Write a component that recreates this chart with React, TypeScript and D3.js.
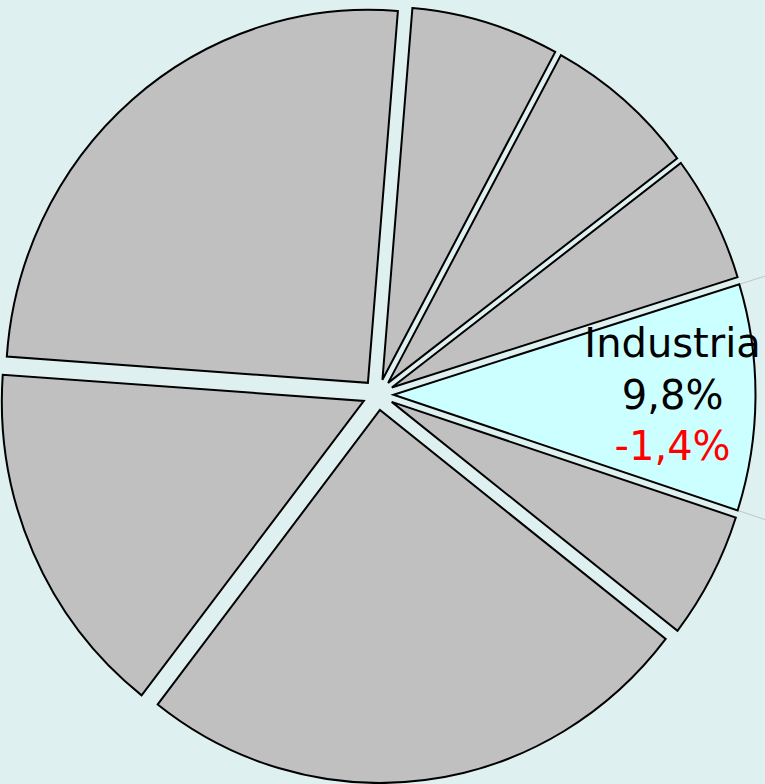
import React from "react";
import * as d3 from "d3";

// ---- data (clockwise, starting near 12 o'clock) ----
const categories = ["Sector A", "Sector B", "Sector C", "Industria", "Sector E", "Sector F", "Sector G", "Sector H"];
const shares = [6.6, 6.8, 5.5, 9.8, 5.5, 25.0, 15.6, 25.2];
const highlighted = "Industria";
const shareLabels = ["", "", "", "9,8%", "", "", "", ""];
const changeLabels = ["", "", "", "-1,4%", "", "", "", ""];

const W = 765;
const H = 784;
const CX = 378;
const CY = 394.6;
const RX = 362;
const RY = 373;
const EXPLODE = 15.5;
const START = (4.75 * Math.PI) / 180;

const BG = "#dff0f1";
const GRAY = "#c0c0c0";
const CYAN = "#ccffff";

export default function App() {
  const pie = d3
    .pie<number>()
    .sort(null)
    .value((d) => d)
    .startAngle(START)
    .endAngle(START + 2 * Math.PI);
  const arcs = pie(shares);
  const arcGen = d3.arc<d3.PieArcDatum<number>>().innerRadius(0).outerRadius(RY);
  const sx = RX / RY;

  return (
    <svg
      width={W}
      height={H}
      style={{ position: "absolute", left: 0, top: 0, display: "block" }}
    >
      <rect x={0} y={0} width={W} height={H} fill={BG} />
      {arcs.map((a, i) => {
        const mid = (a.startAngle + a.endAngle) / 2;
        const tx = EXPLODE * Math.sin(mid);
        const ty = -EXPLODE * Math.cos(mid);
        const isHi = categories[i] === highlighted;
        return (
          <g key={i} transform={`translate(${CX + tx},${CY + ty})`}>
            {isHi &&
              [a.startAngle, a.endAngle].map((b, j) => {
                const x0 = RX * Math.sin(b);
                const y0 = -RY * Math.cos(b);
                const dx = sx * Math.sin(b);
                const dy = -Math.cos(b);
                const n = Math.hypot(dx, dy);
                return (
                  <line
                    key={j}
                    x1={x0}
                    y1={y0}
                    x2={x0 + (80 * dx) / n}
                    y2={y0 + (80 * dy) / n}
                    stroke="#c4c4c4"
                    strokeWidth={1}
                  />
                );
              })}
            <g transform={`scale(${sx},1)`}>
              <path
                d={arcGen(a) || ""}
                fill={isHi ? CYAN : GRAY}
                stroke="#000"
                strokeWidth={2}
                strokeLinejoin="miter"
                vectorEffect="non-scaling-stroke"
              />
            </g>
          </g>
        );
      })}
      {arcs.map((a, i) => {
        if (categories[i] !== highlighted) return null;
        const mid = (a.startAngle + a.endAngle) / 2;
        const tx = EXPLODE * Math.sin(mid);
        const ty = -EXPLODE * Math.cos(mid);
        const k = 0.771;
        const x = CX + tx + k * RX * Math.sin(mid);
        const y = CY + ty - k * RY * Math.cos(mid) + 12;
        return (
          <g key={"l" + i} fontFamily="DejaVu Sans" fontSize={40} textAnchor="middle">
            <text x={x} y={y - 52} fill="#000">{categories[i]}</text>
            <text x={x} y={y} fill="#000">{shareLabels[i]}</text>
            <text x={x} y={y + 51} fill="#ff0000">{changeLabels[i]}</text>
          </g>
        );
      })}
    </svg>
  );
}
